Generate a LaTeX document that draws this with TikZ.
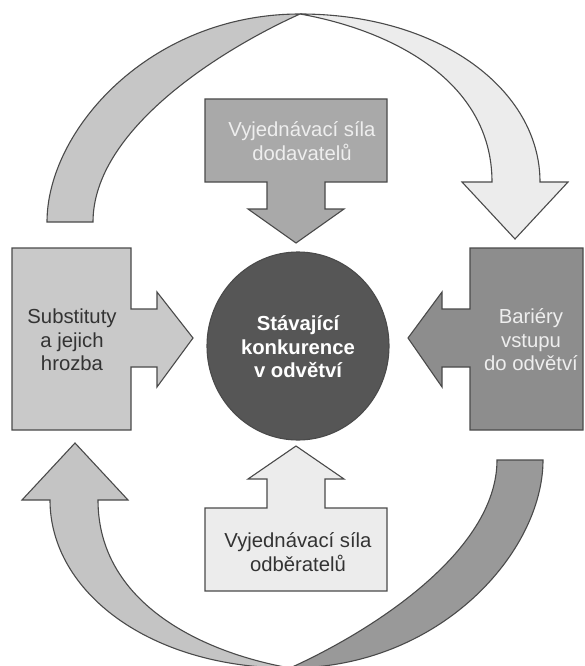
\documentclass[tikz,border=0pt]{standalone}
\usepackage{fontspec}
\setmainfont{Liberation Sans}
\definecolor{edgec}{HTML}{4A4A4A}
\definecolor{cTL}{HTML}{C6C6C6}
\definecolor{cTR}{HTML}{ECECEC}
\definecolor{cBL}{HTML}{C4C4C4}
\definecolor{cBR}{HTML}{999999}
\definecolor{cSup}{HTML}{A9A9A9}
\definecolor{cCus}{HTML}{ECECEC}
\definecolor{cSub}{HTML}{C9C9C9}
\definecolor{cBar}{HTML}{8D8D8D}
\definecolor{cMid}{HTML}{565656}
\definecolor{darktxt}{HTML}{333333}
\definecolor{lighttxt}{HTML}{EEEEEE}
\begin{document}
\begin{tikzpicture}[x=1pt,y=-1pt,
  band/.style={draw=edgec, line width=1.1pt, line join=miter},
  lbl/.style={align=center, inner sep=0pt, font=\fontsize{20.3}{23.5}\selectfont}]
\useasboundingbox (0,0) rectangle (585,666);
\clip (0,0) rectangle (585,666);
% top-left band (flat end)
\draw[band, fill=cTL] (47,222) .. controls (47,130) and (150,14) .. (300,14)
  .. controls (220,50) and (93,130) .. (93,222) -- cycle;
% top-right band (arrow)
\draw[band, fill=cTR] (300,14) .. controls (440,14) and (540,90) .. (540,182)
  -- (568,182) -- (515,239) -- (462,182) -- (492,182)
  .. controls (492,80) and (390,30) .. (300,14) -- cycle;
\begin{scope}[rotate around={180:(295,341)}]
% bottom-right band (flat end)
\draw[band, fill=cBR] (47,222) .. controls (47,130) and (150,14) .. (300,14)
  .. controls (220,50) and (93,130) .. (93,222) -- cycle;
% bottom-left band (arrow)
\draw[band, fill=cBL] (300,14) .. controls (440,14) and (540,90) .. (540,182)
  -- (568,182) -- (515,239) -- (462,182) -- (492,182)
  .. controls (492,80) and (390,30) .. (300,14) -- cycle;
\end{scope}
% supplier box
\draw[band, fill=cSup] (205,99) -- (387,99) -- (387,182) -- (325,182) -- (325,209)
  -- (344,209) -- (296,243) -- (248,209) -- (267,209) -- (267,182) -- (205,182) -- cycle;
% customer box
\draw[band, fill=cCus] (205,591) -- (387,591) -- (387,508) -- (325,508) -- (325,479)
  -- (344,479) -- (296,446) -- (248,479) -- (267,479) -- (267,508) -- (205,508) -- cycle;
% substitutes box
\draw[band, fill=cSub] (12,248) -- (131,248) -- (131,309) -- (157,309) -- (157,292)
  -- (193,338) -- (157,387) -- (157,367) -- (131,367) -- (131,430) -- (12,430) -- cycle;
% barriers box
\draw[band, fill=cBar] (583,248) -- (470,248) -- (470,309) -- (442,309) -- (442,292)
  -- (408,338) -- (442,387) -- (442,367) -- (470,367) -- (470,430) -- (583,430) -- cycle;
% centre
\draw[band, fill=cMid] (298,346) ellipse [x radius=91, y radius=94];
% texts
\node[lbl, text=lighttxt] (sup) at (302,141) {Vyjednávací síla\\dodavatelů};
\node[lbl, text=darktxt] (cus) at (298,552) {Vyjednávací síla\\odběratelů};
\node[lbl, text=darktxt] (sub) at (72,340) {Substituty\\a jejich\\hrozba};
\node[lbl, text=lighttxt] (bar) at (531,340) {Bariéry\\vstupu\\do odvětví};
\node[lbl, text=white, font=\fontsize{20.3}{23.5}\selectfont\bfseries] (mid) at (298,347) {Stávající\\konkurence\\v odvětví};
\end{tikzpicture}
\end{document}
